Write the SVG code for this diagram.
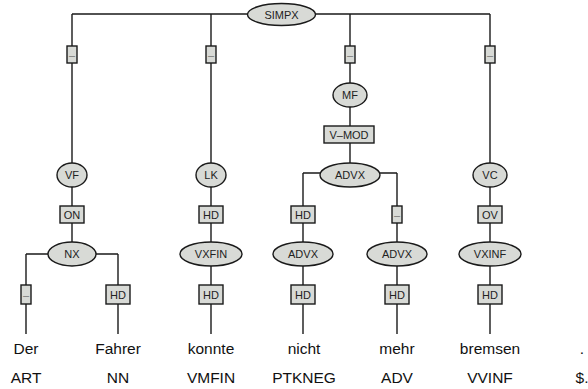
<svg xmlns="http://www.w3.org/2000/svg" width="588" height="389" viewBox="0 0 588 389">
<style>
.n{fill:#d8dad6;stroke:#1a1a1a;stroke-width:1.4}
.e{fill:#d8dad6;stroke:#1a1a1a;stroke-width:1.4}
.l{fill:none;stroke:#1a1a1a;stroke-width:1.4}
.t{font-family:"Liberation Sans",Arial,sans-serif;font-size:11px;fill:#222;text-anchor:middle;dominant-baseline:central}
.d{font-family:"Liberation Sans",Arial,sans-serif;font-size:11px;fill:#777;text-anchor:middle;dominant-baseline:central}
.w{font-family:"Liberation Sans",Arial,sans-serif;font-size:15.5px;fill:#111;text-anchor:middle}
</style>
<g id="connectors">
<path class="l" d="M72,14H490M72,14V175M211,14V175M350,14V95M490,14V175"/>
<path class="l" d="M350,95V175M303,173H397M303,173V254M397,173V254"/>
<path class="l" d="M72,175V254M26,254H118M26,254V334M118,254V334"/>
<path class="l" d="M211,175V334M303,254V334M397,254V334M490,175V334"/>
</g>
<g id="SIMPX"><ellipse class="n" cx="281.5" cy="14.5" rx="34" ry="11"/><text class="t" x="281.5" y="14.5">SIMPX</text></g>
<g id="e1"><rect class="e" x="67" y="46" width="10" height="17"/><text class="d" x="72" y="54.5">–</text></g>
<g id="e2"><rect class="e" x="206" y="46" width="10" height="17"/><text class="d" x="211" y="54.5">–</text></g>
<g id="e3"><rect class="e" x="345" y="46" width="10" height="17"/><text class="d" x="350" y="54.5">–</text></g>
<g id="e4"><rect class="e" x="485" y="46" width="10" height="17"/><text class="d" x="490" y="54.5">–</text></g>
<g id="MF"><ellipse class="n" cx="350" cy="95" rx="17" ry="12"/><text class="t" x="350" y="95">MF</text></g>
<g id="VMOD"><rect class="e" x="324" y="126" width="50" height="17"/><text class="t" x="349" y="134.5">V–MOD</text></g>
<g id="VF"><ellipse class="n" cx="72" cy="175" rx="15" ry="12"/><text class="t" x="72" y="175">VF</text></g>
<g id="LK"><ellipse class="n" cx="211" cy="175" rx="15" ry="12"/><text class="t" x="211" y="175">LK</text></g>
<g id="ADVX1"><ellipse class="n" cx="350" cy="175" rx="30" ry="12"/><text class="t" x="350" y="175">ADVX</text></g>
<g id="VC"><ellipse class="n" cx="490" cy="175" rx="17" ry="12"/><text class="t" x="490" y="175">VC</text></g>
<g id="ON"><rect class="e" x="60" y="206" width="24" height="17"/><text class="t" x="72" y="214.5">ON</text></g>
<g id="HD1"><rect class="e" x="199" y="206" width="24" height="17"/><text class="t" x="211" y="214.5">HD</text></g>
<g id="HD2"><rect class="e" x="291" y="206" width="24" height="17"/><text class="t" x="303" y="214.5">HD</text></g>
<g id="e5"><rect class="e" x="392" y="206" width="10" height="17"/><text class="d" x="397" y="214.5">–</text></g>
<g id="OV"><rect class="e" x="478" y="206" width="24" height="17"/><text class="t" x="490" y="214.5">OV</text></g>
<g id="NX"><ellipse class="n" cx="72" cy="254" rx="24" ry="12"/><text class="t" x="72" y="254">NX</text></g>
<g id="VXFIN"><ellipse class="n" cx="211" cy="254" rx="31" ry="12"/><text class="t" x="211" y="254">VXFIN</text></g>
<g id="ADVX2"><ellipse class="n" cx="303" cy="254" rx="30" ry="12"/><text class="t" x="303" y="254">ADVX</text></g>
<g id="ADVX3"><ellipse class="n" cx="397" cy="254" rx="30" ry="12"/><text class="t" x="397" y="254">ADVX</text></g>
<g id="VXINF"><ellipse class="n" cx="490" cy="254" rx="31" ry="12"/><text class="t" x="490" y="254">VXINF</text></g>
<g id="e6"><rect class="e" x="21" y="285" width="10" height="19"/><text class="d" x="26" y="294.5">–</text></g>
<g id="HD3"><rect class="e" x="106" y="285" width="24" height="19"/><text class="t" x="118" y="294.5">HD</text></g>
<g id="HD4"><rect class="e" x="199" y="285" width="24" height="19"/><text class="t" x="211" y="294.5">HD</text></g>
<g id="HD5"><rect class="e" x="291" y="285" width="24" height="19"/><text class="t" x="303" y="294.5">HD</text></g>
<g id="HD6"><rect class="e" x="385" y="285" width="24" height="19"/><text class="t" x="397" y="294.5">HD</text></g>
<g id="HD7"><rect class="e" x="478" y="285" width="24" height="19"/><text class="t" x="490" y="294.5">HD</text></g>
<g id="words">
<text class="w" x="26" y="354">Der</text>
<text class="w" x="118" y="354">Fahrer</text>
<text class="w" x="211" y="354">konnte</text>
<text class="w" x="304" y="354">nicht</text>
<text class="w" x="397" y="354">mehr</text>
<text class="w" x="490" y="354">bremsen</text>
<text class="w" x="582" y="354">.</text>
<text class="w" x="26" y="383">ART</text>
<text class="w" x="118" y="383">NN</text>
<text class="w" x="211" y="383">VMFIN</text>
<text class="w" x="304" y="383">PTKNEG</text>
<text class="w" x="397" y="383">ADV</text>
<text class="w" x="490" y="383">VVINF</text>
<text class="w" x="582" y="383">$.</text>
</g>
</svg>
